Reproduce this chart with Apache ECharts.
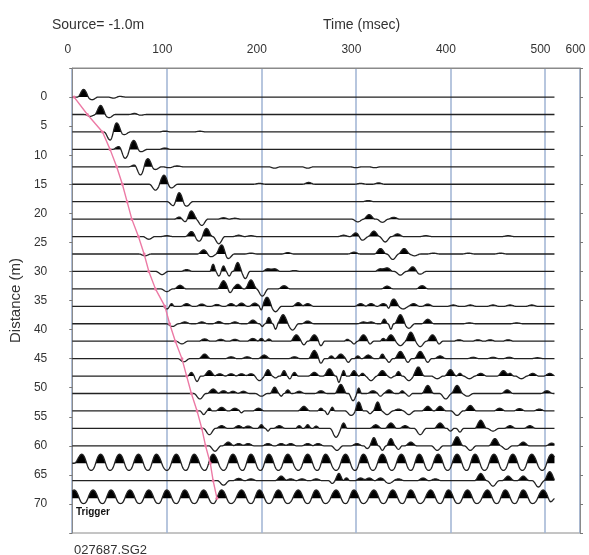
<!DOCTYPE html>
<html>
<head>
<meta charset="utf-8">
<title>027687.SG2</title>
<script src="https://cdn.jsdelivr.net/npm/echarts@6/dist/echarts.min.js"></script>
<style>
  html, body { margin: 0; padding: 0; background: #fff; }
  #chart { width: 589px; height: 555px; }
</style>
</head>
<body>
<div id="chart"></div>
<script>
// shot record, values
const FILE_NAME = '027687.SG2'
const SOURCE_LABEL = 'Source= -1.0m'

// geophone offsets (m), one trace each
const DISTANCES = [0, 3, 6, 9, 12, 15, 18, 21, 24, 27, 30, 33, 36, 39, 42, 45, 48, 51, 54, 57, 60, 63, 66, 69]

// first-break picks (ms), same order as DISTANCES
const FIRST_BREAKS = [2, 16, 32, 40, 47, 53, 58, 63, 70, 76, 81, 88, 98, 103, 109, 116, 121, 126, 132, 137, 141, 146, 149, 153]

// time axis: ticks and the labels printed above them
const TIME_TICKS = [0, 100, 200, 300, 400, 500, 537]
const TIME_LABELS = ['0', '100', '200', '300', '400', '500', '600']

// wiggles per trace: [time ms, amplitude (+ up), optional half width ms]
const TRACE_EVENTS = [
  [[12, 0.85], [21, -0.3], [44, -0.12], [50, 0.08]],
  [[19, -0.2], [30, 1.0], [39, -0.35], [66, 0.12], [72, -0.08]],
  [[40, -0.9], [47, 1.0], [55, -0.3], [98, 0.1], [135, 0.08]],
  [[49, 0.3], [56, -1.0], [65, 1.0], [73, -0.25], [98, 0.15]],
  [[66, 0.2], [72, -0.9], [80, 0.9], [88, -0.3], [102, -0.1], [111, 0.1], [214, -0.15], [249, -0.15], [300, -0.1], [320, -0.1]],
  [[88, -0.65], [97, 1.0], [105, -0.4], [198, 0.1], [250, 0.2], [305, 0.1], [324, 0.15]],
  [[107, -0.45], [113, 1.0], [121, -0.5], [313, 0.12]],
  [[114, 0.25], [119, -0.3], [126, 0.9], [137, -0.7], [160, 0.15], [172, 0.1], [302, -0.3], [314, 0.5], [328, -0.35], [340, 0.2]],
  [[81, -0.3], [100, 0.1], [126, 0.55], [134, -0.5], [142, 0.9], [155, -0.8], [176, 0.15], [189, 0.1], [287, 0.15], [300, 0.4], [307, -0.4], [319, 0.6], [331, -0.6], [344, 0.3], [374, 0.1], [461, 0.1]],
  [[77, -0.2], [139, 0.45], [147, -0.3], [158, 1.0], [165, -0.5], [189, 0.1], [228, 0.15], [298, 0.2], [326, 0.6], [339, -0.6], [351, 0.6], [362, -0.2], [382, 0.1], [419, 0.1], [453, 0.1]],
  [[95, -0.35], [121, 0.2], [149, 0.8, 3.5], [155, -0.5, 3.5], [160, 0.6, 3.5], [166, -0.5, 3.5], [175, 1.0, 5], [183, -0.8, 5], [207, 0.3], [214, 0.3], [235, 0.1], [326, 0.3], [333, 0.4], [347, -0.4], [360, 0.5], [368, -0.3]],
  [[100, -0.3], [114, 0.4], [160, 0.9], [167, -0.4, 4], [175, 0.5], [189, 1.0], [201, -0.8], [224, 0.35], [333, 0.3], [370, 0.35]],
  [[100, -0.3, 4], [105, 0.3, 3], [121, 0.3], [137, 0.25], [153, 0.2], [168, 0.3], [179, 0.35], [193, 0.35], [200, -0.4, 3], [206, 1.0], [215, -0.6], [239, 0.4], [249, 0.3], [305, 0.3], [316, 0.3], [329, 0.3], [335, -0.3, 3], [340, 0.8], [350, -0.3], [361, 0.3], [376, 0.25], [403, 0.15], [421, 0.15], [445, 0.15], [463, 0.15], [486, 0.15]],
  [[106, -0.3], [119, 0.2], [137, 0.2], [155, 0.25], [172, 0.2], [191, 0.4], [201, -0.3, 3], [208, 0.7, 4], [215, -0.6, 3], [223, 1.0], [233, -0.7], [249, 0.3], [308, 0.2], [316, 0.2], [330, 0.5, 4], [337, -0.6, 3], [347, 1.0], [356, -0.5], [376, 0.5], [420, 0.1], [470, 0.1]],
  [[116, -0.3], [140, 0.25], [157, 0.2], [172, 0.2], [191, 0.3], [200, 0.3, 4], [208, 0.25, 4], [237, 0.7], [245, -0.4, 4], [256, 0.7], [263, -0.5, 4], [291, 0.2, 4], [298, -0.3, 4], [308, 0.7], [315, -0.3, 4], [329, 0.3, 4], [337, 0.7], [347, -0.5], [358, 1.0], [368, -0.6], [381, 0.7], [388, -0.3, 4], [409, 0.15], [429, 0.15], [442, 0.15], [461, 0.15]],
  [[118, -0.35], [140, 0.5], [168, 0.2], [185, 0.2], [203, 0.4], [235, 0.2], [256, 0.9], [263, -0.5, 4], [274, 0.3, 4], [284, 0.5], [292, -0.4, 4], [302, 0.3, 4], [313, 0.4], [328, 0.5, 4], [335, -0.4, 4], [347, 0.8], [355, -0.4, 4], [368, 0.8], [376, -0.4, 4], [389, 0.3], [424, 0.15], [445, 0.15], [462, 0.15], [492, 0.1]],
  [[126, 0.4, 4], [132, -0.6, 4], [145, 0.6], [156, 0.25], [168, 0.25], [179, 0.25], [189, 0.25], [198, -0.5], [207, 0.7, 5], [215, -0.2, 4], [224, 0.6, 4], [230, -0.3, 3], [235, 0.4, 4], [256, 0.4], [272, 0.8], [282, -0.7, 3], [287, 0.6, 3], [298, 0.6, 5], [307, 0.3, 4], [316, -0.5], [328, 0.6], [337, -0.2, 4], [345, 0.5, 4], [356, -0.5], [366, 1.0], [386, -0.3], [400, 0.7], [410, 0.3, 4], [420, -0.3], [432, 0.3], [456, 0.6], [463, 0.3, 4], [475, -0.3], [487, 0.3], [505, 0.3]],
  [[135, -0.6], [149, 0.5], [160, 0.3], [170, 0.25], [181, 0.25], [200, -0.3], [214, 0.7, 5], [221, -0.3, 3], [228, 0.4, 4], [240, 0.25], [263, 0.3], [284, 1.0], [297, -0.8, 5], [303, 0.6, 3], [318, 0.3], [326, -0.3, 4], [335, 0.4], [349, 0.3, 4], [356, -0.3, 4], [376, 0.9], [395, -0.6], [407, 0.9], [418, -0.3], [460, 0.4], [502, 0.3]],
  [[139, -0.4, 4], [145, 0.3, 3], [158, 0.4], [172, 0.3], [179, -0.2, 3], [197, 0.3], [245, 0.5], [263, 0.3, 4], [270, -0.4, 3], [275, 0.4, 3], [295, -0.5], [303, 1.0, 5], [315, -0.3, 4], [323, 1.0, 5], [333, -0.4], [345, 0.2], [356, -0.4], [376, 0.5], [389, 0.5], [407, -0.5], [421, 0.6], [452, 0.3], [473, 0.25], [494, 0.2]],
  [[145, -0.7], [158, 0.3], [176, 0.3], [186, 0.25], [200, 0.4, 4], [207, -0.3, 3], [219, 0.3], [240, 0.3, 4], [249, 0.4, 4], [258, 0.25, 4], [279, -1.0], [287, 0.6, 4], [321, 0.4], [337, 0.6], [352, 0.3], [368, -0.7], [389, 0.6], [400, -0.3, 4], [410, -0.4, 4], [432, 0.9], [445, -0.3], [463, 0.3], [484, 0.3]],
  [[151, -0.6], [165, 0.4], [176, 0.25], [186, 0.25], [207, 0.25], [221, 0.25], [231, 0.25], [249, 0.25], [260, 0.25], [280, -0.5], [301, 0.25], [312, -0.3, 4], [319, 0.9, 5], [328, -0.5, 4], [337, 0.8, 5], [345, -0.4, 4], [358, 0.4], [386, -0.5], [407, 1.0], [421, -0.5], [447, 0.8], [459, -0.4], [477, 0.4], [507, 0.3]],
  // 63 m: mains hum
  [[10, 1, 8], [20, -0.8, 8], [30, 1, 8], [40, -0.8, 8], [50, 1, 8], [60, -0.8, 8], [70, 1, 8], [80, -0.8, 8], [89, 1, 8], [100, -0.8, 8],
   [110, 1, 8], [120, -0.8, 8], [129, 1, 8], [140, -0.8, 8], [149, 1, 8], [160, -0.8, 8], [170, 1, 8], [180, -0.8, 8], [189, 1, 8], [199, -0.8, 8],
   [208, 1, 8], [218, -0.8, 8], [228, 1, 8], [239, -0.8, 8], [249, 1, 8], [259, -0.8, 8], [268, 1, 8], [279, -0.8, 8], [289, 1, 8], [299, -0.8, 8],
   [308, 1, 8], [318, -0.8, 8], [328, 1, 8], [338, -0.8, 8], [348, 1, 8], [358, -0.8, 8], [367, 1, 8], [377, -0.8, 8], [387, 1, 8], [397, -0.8, 8],
   [407, 1, 8], [417, -0.8, 8], [426, 1, 8], [436, -0.8, 8], [446, 1, 8], [456, -0.8, 8], [466, 1, 8], [476, -0.8, 8], [486, 1, 8], [497, -0.8, 8], [507, 1, 8]],
  [[160, -0.5], [176, 0.25], [189, 0.2], [221, 0.5], [231, 0.2], [243, 0.2], [258, 0.2], [275, -0.3, 4], [282, 0.8, 5], [290, 0.3, 4], [305, 0.3], [314, 0.3], [326, 0.3], [335, -0.3], [345, 0.2], [371, 0.3], [384, 0.2], [432, 0.8], [445, -0.6], [461, 0.5], [477, 0.5], [493, -0.7], [505, 1.0]],
  // 69 m: trigger channel
  [[2, 0.9, 8], [12, -0.6, 8], [22, 0.9, 8], [32, -0.6, 8], [41, 0.9, 8], [51, -0.6, 8], [61, 0.9, 8], [71, -0.6, 8], [81, 0.9, 8], [91, -0.6, 8],
   [100, 0.9, 8], [110, -0.6, 8], [119, 0.9, 8], [129, -0.6, 8], [139, 0.9, 8], [149, -0.6, 8], [158, 0.9, 8], [168, -0.6, 8], [179, 0.9, 8], [189, -0.6, 8],
   [198, 0.9, 8], [208, -0.6, 8], [218, 0.9, 8], [228, -0.6, 8], [239, 0.9, 8], [249, -0.6, 8], [258, 0.9, 8], [268, -0.6, 8], [279, 0.9, 8], [289, -0.6, 8],
   [298, 0.9, 8], [308, -0.6, 8], [319, 0.9, 8], [329, -0.6, 8], [339, 0.9, 8], [349, -0.6, 8], [358, 0.9, 8], [368, -0.6, 8], [379, 0.9, 8], [389, -0.6, 8],
   [398, 0.9, 8], [408, -0.6, 8], [418, 0.9, 8], [428, -0.6, 8], [439, 0.9, 8], [449, -0.6, 8], [458, 0.9, 8], [468, -0.6, 8], [477, 0.9, 8], [487, -0.6, 8], [498, 0.9, 8], [506, -0.4, 5]]
]

const TRACE_START = 0
const TRACE_END = 510
const X_MAX = 537
const PULSE_W = 6.5    // default half width of a wiggle (ms)
const AMP_GAIN = 1.55  // metres of display per unit amplitude

const FONT = 'Liberation Sans, Arial, sans-serif'

const chart = echarts.init(document.getElementById('chart'))

// amplitude of one trace at time t
const traceAmp = (events, t) => {
  let a = 0
  for (const ev of events) {
    const w = ev[2] || PULSE_W
    const d = Math.abs(t - ev[0])
    if (d < w) a += ev[1] * (1 + Math.cos(Math.PI * d / w)) / 2
  }
  return a
}

const renderTrace = (params, api) => {
  const k = api.value(0)
  const dist = DISTANCES[k]
  const events = TRACE_EVENTS[k]
  const line = []
  const fill = [api.coord([TRACE_START, dist])]
  for (let t = TRACE_START; t <= TRACE_END; t += 0.5) {
    const a = traceAmp(events, t)
    const p = api.coord([t, dist - a * AMP_GAIN])
    line.push(p)
    fill.push(a > 0 ? p : api.coord([t, dist]))
  }
  fill.push(api.coord([TRACE_END, dist]))
  return {
    type: 'group',
    children: [
      { type: 'polygon', shape: { points: fill }, style: { fill: '#000' } },
      { type: 'polyline', shape: { points: line }, style: { stroke: '#222', lineWidth: 1.3, fill: null } }
    ]
  }
}

const option = {
  animation: false,
  backgroundColor: '#fff',
  title: [
    { text: SOURCE_LABEL, left: 47, top: 13, textStyle: { fontFamily: FONT, fontSize: 14, fontWeight: 'normal', color: '#333' } },
    { text: 'Time (msec)', left: 318, top: 13, textStyle: { fontFamily: FONT, fontSize: 14, fontWeight: 'normal', color: '#333' } },
    { text: FILE_NAME, left: 69, top: 539, textStyle: { fontFamily: FONT, fontSize: 13, fontWeight: 'normal', color: '#333' } }
  ],
  graphic: [
    { type: 'text', left: 76, top: 507, z: 10, style: { text: 'Trigger', font: 'bold 10px ' + FONT, fill: '#111' } }
  ],
  grid: {
    left: 70,
    right: 9,
    top: 68,
    bottom: 22,
    show: true,
    borderColor: '#8a8a8a',
    borderWidth: 1
  },
  xAxis: {
    type: 'value',
    position: 'top',
    min: 0,
    max: X_MAX,
    interval: 100,
    axisLine: { show: true, onZero: false, lineStyle: { color: '#8a8a8a' } },
    axisTick: { show: false },
    axisLabel: {
      color: '#333',
      fontFamily: FONT,
      fontSize: 12,
      margin: 12,
      padding: [0, 9, 0, 0],
      formatter: v => {
        const i = TIME_TICKS.indexOf(v)
        return i >= 0 ? TIME_LABELS[i] : (v >= X_MAX ? TIME_LABELS[TIME_LABELS.length - 1] : '')
      }
    },
    splitLine: { show: true, lineStyle: { color: '#9fb3d3', width: 1.5 } }
  },
  yAxis: [
    {
      type: 'value',
      inverse: true,
      min: -5,
      max: 75,
      interval: 5,
      name: 'Distance (m)',
      nameLocation: 'middle',
      nameGap: 49,
      nameTextStyle: { fontFamily: FONT, fontSize: 15, color: '#333' },
      axisLine: { show: true, onZero: false, lineStyle: { color: '#8a8a8a' } },
      axisTick: { show: true, length: 3, lineStyle: { color: '#777' } },
      axisLabel: {
        color: '#333',
        fontFamily: FONT,
        fontSize: 12,
        margin: 25,
        formatter: v => (v < 0 || v > 70) ? '' : String(v)
      },
      splitLine: { show: false }
    },
    {
      type: 'value',
      inverse: true,
      position: 'right',
      min: -5,
      max: 75,
      interval: 5,
      axisLine: { show: true, onZero: false, lineStyle: { color: '#8a8a8a' } },
      axisTick: { show: true, length: 3, lineStyle: { color: '#777' } },
      axisLabel: { show: false },
      splitLine: { show: false }
    }
  ],
  series: [
    {
      type: 'custom',
      coordinateSystem: 'cartesian2d',
      silent: true,
      clip: false,
      encode: { x: 1, y: 2 },
      data: TRACE_EVENTS.map((_, i) => [i, 0, DISTANCES[i]]),
      renderItem: renderTrace,
      z: 2
    },
    {
      type: 'line',
      silent: true,
      data: FIRST_BREAKS.map((t, i) => [t, DISTANCES[i]]),
      lineStyle: { color: '#ec7aa5', width: 1.4 },
      itemStyle: { color: '#ec7aa5' },
      symbol: 'circle',
      symbolSize: 3,
      z: 3
    }
  ]
}

chart.setOption(option)
window.addEventListener('resize', () => chart.resize())
</script>
</body>
</html>
